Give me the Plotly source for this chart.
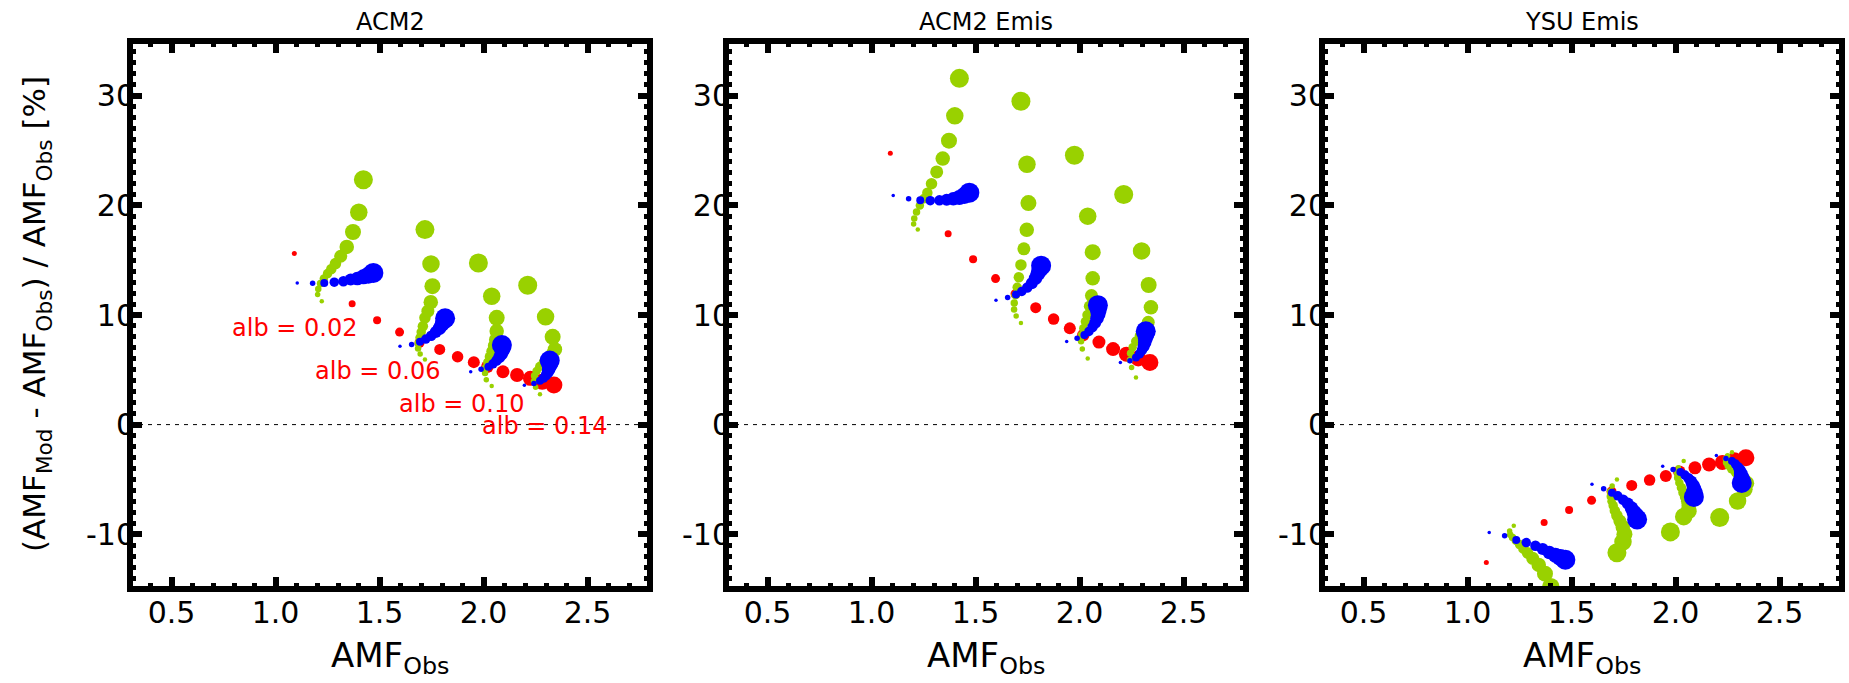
import plotly.graph_objects as go

# ---------------- data ----------------
panel_titles = ["ACM2", "ACM2 Emis", "YSU Emis"]

# red: albedo sweep (x = AMF_Obs, shared by all panels)
red_x = [1.09, 1.368, 1.488, 1.596, 1.692, 1.789, 1.875, 1.953, 2.018, 2.093, 2.161, 2.225, 2.282, 2.338]
red_y_acm2 = [15.6, 11.02, 9.53, 8.44, 7.46, 6.86, 6.19, 5.7, 5.28, 4.82, 4.52, 4.22, 3.91, 3.61]
red_y_acm2emis = [24.76, 17.41, 15.09, 13.32, 11.92, 10.67, 9.63, 8.78, 8.17, 7.53, 6.89, 6.43, 6.04, 5.67]
red_y_ysuemis = [-12.58, -8.94, -7.79, -6.91, -6.1, -5.55, -5.06, -4.7, -4.3, -3.94, -3.64, -3.45, -3.25, -3.03]

# blue clusters (one list per albedo 0.02, 0.06, 0.10, 0.14)
blue_x = [
    [1.104, 1.178, 1.234, 1.282, 1.326, 1.361, 1.393, 1.422, 1.446, 1.47],
    [1.598, 1.654, 1.694, 1.722, 1.748, 1.77, 1.788, 1.80, 1.81, 1.815],
    [1.938, 1.988, 2.023, 2.045, 2.062, 2.075, 2.084, 2.089, 2.09, 2.088],
    [2.196, 2.242, 2.271, 2.288, 2.30, 2.308, 2.313, 2.316, 2.318, 2.318],
]
blue_y_acm2 = [
    [12.93, 12.90, 12.93, 12.99, 13.08, 13.23, 13.32, 13.48, 13.63, 13.84],
    [7.16, 7.31, 7.56, 7.8, 8.1, 8.45, 8.8, 9.15, 9.45, 9.7],
    [4.82, 5.04, 5.28, 5.55, 5.85, 6.15, 6.45, 6.75, 7.0, 7.26],
    [3.58, 3.76, 4.0, 4.25, 4.5, 4.78, 5.05, 5.33, 5.6, 5.84],
]
blue_y_acm2emis = [
    [20.91, 20.61, 20.46, 20.43, 20.46, 20.52, 20.61, 20.73, 20.91, 21.16],
    [11.34, 11.59, 11.86, 12.15, 12.5, 12.9, 13.35, 13.8, 14.2, 14.5],
    [7.59, 7.87, 8.17, 8.5, 8.9, 9.3, 9.7, 10.1, 10.5, 10.9],
    [5.67, 5.82, 6.13, 6.45, 6.8, 7.15, 7.5, 7.85, 8.2, 8.52],
]
blue_y_ysuemis = [
    [-9.85, -10.15, -10.52, -10.76, -11.06, -11.36, -11.67, -11.91, -12.12, -12.33],
    [-5.45, -5.85, -6.21, -6.5, -6.85, -7.2, -7.6, -8.0, -8.35, -8.65],
    [-3.79, -4.09, -4.33, -4.6, -4.9, -5.2, -5.55, -5.9, -6.25, -6.6],
    [-2.82, -3.09, -3.33, -3.6, -3.88, -4.15, -4.45, -4.75, -5.05, -5.33],
]

# green clusters
green_x = [
    [1.222, 1.202, 1.205, 1.216, 1.232, 1.25, 1.268, 1.288, 1.313, 1.342, 1.372, 1.40, 1.422],
    [1.718, 1.695, 1.685, 1.686, 1.692, 1.70, 1.708, 1.718, 1.732, 1.746, 1.754, 1.747, 1.718],
    [2.039, 2.013, 2.007, 2.01, 2.018, 2.028, 2.038, 2.048, 2.057, 2.063, 2.063, 2.039, 1.975],
    [2.271, 2.25, 2.242, 2.245, 2.255, 2.27, 2.29, 2.31, 2.33, 2.343, 2.332, 2.298, 2.212],
]
green_y_acm2 = [
    [11.26, 11.87, 12.38, 12.87, 13.32, 13.78, 14.2, 14.69, 15.36, 16.21, 17.57, 19.37, 22.34],
    [5.94, 6.45, 6.95, 7.45, 7.95, 8.45, 8.98, 9.74, 10.35, 11.17, 12.63, 14.66, 17.79],
    [3.52, 4.1, 4.7, 5.2, 5.7, 6.2, 6.7, 7.2, 7.75, 8.53, 9.74, 11.71, 14.75],
    [2.76, 3.4, 3.95, 4.45, 4.9, 5.3, 5.7, 6.05, 6.45, 6.86, 8.01, 9.83, 12.72],
]
green_y_acm2emis = [
    [17.8, 18.3, 18.8, 19.4, 20.0, 20.6, 21.16, 21.98, 23.05, 24.27, 25.91, 28.17, 31.59],
    [9.27, 9.9, 10.5, 11.1, 11.8, 12.53, 13.44, 14.57, 16.04, 17.77, 20.21, 23.75, 29.51],
    [6.04, 6.9, 7.6, 8.2, 8.8, 9.4, 10.0, 10.8, 11.77, 13.35, 15.73, 19.02, 24.57],
    [4.3, 5.2, 5.9, 6.5, 7.05, 7.6, 8.1, 8.7, 9.33, 10.7, 12.74, 15.85, 21.0],
]
green_y_ysuemis = [
    [-9.24, -9.7, -10.05, -10.3, -10.6, -10.95, -11.3, -11.7, -12.2, -12.8, -13.6, -14.8, -16.8],
    [-5.0, -5.6, -6.1, -6.55, -7.0, -7.4, -7.85, -8.3, -8.8, -9.35, -10.0, -10.7, -11.7],
    [-3.33, -3.94, -4.4, -4.85, -5.3, -5.76, -6.2, -6.6, -7.0, -7.4, -7.9, -8.4, -9.79],
    [-2.52, -2.85, -3.15, -3.45, -3.75, -4.05, -4.35, -4.65, -5.0, -5.35, -5.9, -6.97, -8.48],
]

alb_labels = ["alb = 0.02", "alb = 0.06", "alb = 0.10", "alb = 0.14"]
alb_label_x = [1.093, 1.49, 1.896, 2.295]
alb_label_y = [8.77, 4.85, 1.85, -0.15]

x_ticks = [0.5, 1.0, 1.5, 2.0, 2.5]
y_ticks = [-10, 0, 10, 20, 30]

# ---------------- style ----------------
W, H = 1849, 683
RED, BLUE, GREEN = "#FF0000", "#0000FF", "#99D100"
red_sizes = [5, 7, 8, 9, 10, 11, 11.5, 12, 12.5, 13, 14, 15, 16, 17]
blue_sizes = [3.5, 5.5, 8, 9.5, 10.5, 12, 13.5, 15, 17, 20]
green_sizes = [4.5, 5.5, 6.5, 7.5, 8.5, 9.5, 10.5, 11.5, 13, 14.5, 16, 17.5, 19]
FONT = "DejaVu Sans, Verdana, sans-serif"
TICK_SIZE = 30

x_px = [(130, 650), (726, 1246), (1322, 1842)]
y_px = (41, 589)
ydom = [1 - y_px[1] / H, 1 - y_px[0] / H]

panels_red = [red_y_acm2, red_y_acm2emis, red_y_ysuemis]
panels_blue = [blue_y_acm2, blue_y_acm2emis, blue_y_ysuemis]
panels_green = [green_y_acm2, green_y_acm2emis, green_y_ysuemis]

fig = go.Figure()
layout = dict(
    width=W, height=H, margin=dict(l=0, r=0, t=0, b=0),
    paper_bgcolor="white", plot_bgcolor="white", showlegend=False,
    font=dict(family=FONT, color="black"),
)
shapes, annotations = [], []

for i in range(3):
    xa = "x" if i == 0 else f"x{i+1}"
    ya = "y" if i == 0 else f"y{i+1}"
    xkey = "xaxis" if i == 0 else f"xaxis{i+1}"
    ykey = "yaxis" if i == 0 else f"yaxis{i+1}"

    fig.add_trace(go.Scatter(x=red_x, y=panels_red[i], mode="markers", xaxis=xa, yaxis=ya,
                             marker=dict(color=RED, size=red_sizes, opacity=1, line=dict(width=0))))
    for c in range(4):
        fig.add_trace(go.Scatter(x=green_x[c], y=panels_green[i][c], mode="markers", xaxis=xa, yaxis=ya,
                                 marker=dict(color=GREEN, size=green_sizes, opacity=1, line=dict(width=0))))
    for c in range(4):
        fig.add_trace(go.Scatter(x=blue_x[c], y=panels_blue[i][c], mode="markers", xaxis=xa, yaxis=ya,
                                 marker=dict(color=BLUE, size=blue_sizes, opacity=1, line=dict(width=0))))

    x0, x1 = x_px[i]
    xc = (x0 + x1) / 2
    layout[xkey] = dict(
        domain=[x0 / W, x1 / W], anchor=ya, range=[0.3, 2.8],
        tickmode="array", tickvals=x_ticks, ticktext=[f"{v:.1f}" for v in x_ticks],
        ticks="inside", ticklen=12, tickwidth=6, tickcolor="black",
        mirror="allticks", showline=False, showgrid=False, zeroline=False,
        ticklabelstandoff=3,
        tickfont=dict(size=TICK_SIZE, family=FONT, color="black"),
        minor=dict(tickmode="linear", tick0=0, dtick=0.1, ticks="inside", ticklen=6, tickwidth=5,
                   tickcolor="black", showgrid=False),
    )
    layout[ykey] = dict(
        domain=ydom, anchor=xa, range=[-15, 35],
        tickmode="array", tickvals=y_ticks, ticktext=[str(v) for v in y_ticks],
        ticks="inside", ticklen=12, tickwidth=6, tickcolor="black",
        mirror="allticks", showline=False, showgrid=False, zeroline=False,
        ticklabelstandoff=-6,
        tickfont=dict(size=TICK_SIZE, family=FONT, color="black"),
        minor=dict(tickmode="linear", tick0=0, dtick=1, ticks="inside", ticklen=6, tickwidth=5,
                   tickcolor="black", showgrid=False),
    )
    # zero line
    shapes.append(dict(type="line", xref=f"{xa} domain", yref=ya, x0=0, x1=1, y0=0, y1=0,
                       line=dict(color="black", width=1, dash="4px,5px"), layer="below"))
    # frame
    shapes.append(dict(type="rect", xref=f"{xa} domain", yref=f"{ya} domain", x0=0, x1=1, y0=0, y1=1,
                       line=dict(color="black", width=6), fillcolor="rgba(0,0,0,0)", layer="above"))
    # panel title
    annotations.append(dict(text=panel_titles[i], x=xc / W, y=1 - 22 / H, xref="paper", yref="paper",
                            xanchor="center", yanchor="middle", showarrow=False,
                            font=dict(size=24, family=FONT, color="black")))
    # x axis title
    annotations.append(dict(text="AMF<sub>Obs</sub>", x=xc / W, y=1 - 633 / H, xref="paper", yref="paper",
                            xanchor="center", yanchor="top", showarrow=False,
                            font=dict(size=34, family=FONT, color="black")))

# y axis title
annotations.append(dict(text="(AMF<sub>Mod</sub> - AMF<sub>Obs</sub>) / AMF<sub>Obs</sub> [%]",
                        x=36 / W, y=1 - 314 / H, xref="paper", yref="paper", textangle=-90,
                        xanchor="center", yanchor="middle", showarrow=False,
                        font=dict(size=31, family=FONT, color="black")))
# albedo labels
for t, lx, ly in zip(alb_labels, alb_label_x, alb_label_y):
    annotations.append(dict(text=t, x=lx, y=ly, xref="x", yref="y", xanchor="center", yanchor="middle",
                            showarrow=False, font=dict(size=24, family=FONT, color=RED)))

layout["shapes"] = shapes
layout["annotations"] = annotations
fig.update_layout(**layout)
fig.write_html("out.html")
